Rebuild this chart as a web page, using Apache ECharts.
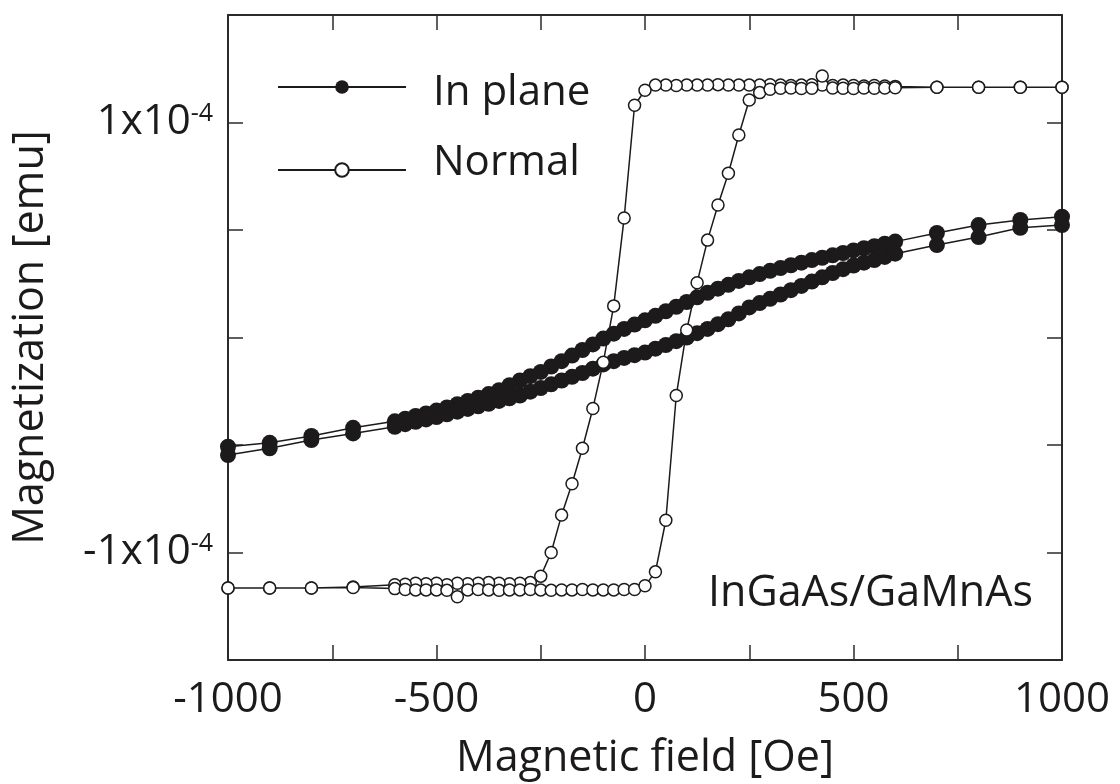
<!DOCTYPE html>
<html>
<head>
<meta charset="utf-8">
<title>InGaAs/GaMnAs magnetization</title>
<script src="https://cdn.jsdelivr.net/npm/echarts@6/dist/echarts.min.js"></script>
<style>
  html, body { margin: 0; padding: 0; background: #fff; }
  #chart { width: 1120px; height: 784px; }
</style>
</head>
<body>
<div id="chart"></div>
<script>
var chart = echarts.init(document.getElementById('chart'));

// field sweep, Oe (down: +1000 -> -1000, then back up)
const fieldDown = [1000, 900, 800, 700,
  600, 575, 550, 525, 500, 475, 450, 425, 400, 375, 350, 325, 300, 275, 250, 225,
  200, 175, 150, 125, 100, 75, 50, 25, 0, -25, -50, -75, -100, -125, -150, -175,
  -200, -225, -250, -275, -300, -325, -350, -375, -400, -425, -450, -475, -500,
  -525, -550, -575, -600,
  -700, -800, -900, -1000];
const fieldUp = fieldDown.slice().reverse();

// magnetization, in units of 1e-4 emu
const inPlaneDown = [0.562, 0.547, 0.523, 0.486,
  0.446, 0.436, 0.425, 0.415, 0.405, 0.393, 0.382, 0.371, 0.360, 0.348, 0.336, 0.323, 0.310, 0.295, 0.280, 0.263,
  0.245, 0.227, 0.208, 0.187, 0.165, 0.143, 0.122, 0.101, 0.080, 0.060, 0.040, 0.018, -0.005, -0.032, -0.058, -0.084,
  -0.110, -0.135, -0.160, -0.180, -0.200, -0.222, -0.245, -0.263, -0.280, -0.295, -0.310, -0.325, -0.340,
  -0.353, -0.365, -0.378, -0.390,
  -0.420, -0.458, -0.490, -0.508];
const inPlaneUp = [-0.547, -0.515, -0.477, -0.446,
  -0.415, -0.403, -0.392, -0.381, -0.370, -0.357, -0.345, -0.332, -0.320, -0.308, -0.295, -0.283, -0.270, -0.252, -0.235, -0.218,
  -0.200, -0.183, -0.165, -0.145, -0.125, -0.110, -0.095, -0.082, -0.070, -0.052, -0.035, -0.017, 0.000, 0.020, 0.040, 0.062,
  0.085, 0.112, 0.140, 0.160, 0.180, 0.200, 0.220, 0.240, 0.260, 0.280, 0.300, 0.318, 0.335,
  0.348, 0.360, 0.375, 0.390,
  0.430, 0.467, 0.510, 0.523];

const normalDown = [1.164, 1.164, 1.164, 1.164,
  1.168, 1.170, 1.172, 1.170, 1.172, 1.174, 1.172, 1.174, 1.176, 1.174, 1.172, 1.174, 1.176, 1.174, 1.174, 1.174,
  1.174, 1.176, 1.174, 1.174, 1.174, 1.172, 1.174, 1.174, 1.150, 1.080, 0.556, 0.147, -0.115, -0.330, -0.515, -0.680,
  -0.826, -1.000, -1.110, -1.140, -1.143, -1.145, -1.143, -1.140, -1.143, -1.145, -1.143, -1.150, -1.143,
  -1.145, -1.143, -1.148, -1.150,
  -1.160, -1.165, -1.165, -1.165];
const normalUp = [-1.165, -1.165, -1.165, -1.163,
  -1.168, -1.172, -1.174, -1.174, -1.174, -1.176, -1.206, -1.174, -1.172, -1.174, -1.176, -1.174, -1.174, -1.172, -1.174, -1.176,
  -1.174, -1.174, -1.172, -1.174, -1.174, -1.174, -1.172, -1.172, -1.155, -1.090, -0.850, -0.270, 0.035, 0.255, 0.453, 0.616,
  0.764, 0.942, 1.105, 1.139, 1.155, 1.159, 1.160, 1.158, 1.159, 1.216, 1.160, 1.159, 1.158,
  1.160, 1.159, 1.160, 1.162,
  1.164, 1.164, 1.164, 1.164];

const seriesNames = ['In plane', 'Normal'];
const xTickLabels = [-1000, -500, 0, 500, 1000];
const yTickLabels = [-1, 1];

function loop(down, up) {
  var pts = [];
  for (var i = 0; i < fieldDown.length; i++) pts.push([fieldDown[i], down[i]]);
  for (var j = 0; j < fieldUp.length; j++) pts.push([fieldUp[j], up[j]]);
  return pts;
}

var ink = '#1c1a1b';
var frame = '#2b2b2b';
var font = '"Open Sans", "Noto Sans", sans-serif';

function axisBase(pos, labels) {
  return {
    type: 'value',
    position: pos,
    axisLine: { show: true, onZero: false, lineStyle: { color: frame, width: 2 } },
    axisTick: { show: true, inside: true, length: 15, lineStyle: { color: frame, width: 1.5 } },
    splitLine: { show: false },
    axisLabel: { show: labels }
  };
}

var xBottom = axisBase('bottom', true);
Object.assign(xBottom, {
  min: -1000, max: 1000, interval: 250,
  name: 'Magnetic field [Oe]', nameLocation: 'middle', nameGap: 77,
  nameTextStyle: { fontFamily: font, fontSize: 43, color: ink }
});
xBottom.axisLabel = {
  show: true, margin: 19, fontFamily: font, fontSize: 42, color: ink,
  formatter: function (v) { return xTickLabels.indexOf(v) >= 0 ? String(v) : ''; }
};
var xTop = axisBase('top', false);
Object.assign(xTop, { min: -1000, max: 1000, interval: 250 });

var yLeft = axisBase('left', true);
Object.assign(yLeft, {
  min: -1.5, max: 1.5, interval: 0.5,
  name: 'Magnetization [emu]', nameLocation: 'middle', nameGap: 176,
  nameTextStyle: { fontFamily: font, fontSize: 43, color: ink }
});
yLeft.axisLabel = {
  show: true, margin: 15, fontFamily: font, fontSize: 42, color: ink,
  formatter: function (v) {
    if (yTickLabels.indexOf(v) < 0) return '';
    return (v < 0 ? '-' : '') + '1x10{s|-4}';
  },
  rich: {
    s: { fontFamily: font, fontSize: 25, color: ink, verticalAlign: 'top', padding: [0, 0, 18, 0] }
  }
};
var yRight = axisBase('right', false);
Object.assign(yRight, { min: -1.5, max: 1.5, interval: 0.5 });

// legend text sits a little below its line for the first entry, above it for the second
var legendText = { fontFamily: font, fontSize: 42, color: ink, lineHeight: 50, padding: [0, 0, 0, 22] };

var option = {
  animation: false,
  backgroundColor: '#fff',
  grid: { left: 228, right: 58, top: 15, bottom: 124, outerBoundsMode: 'none', containLabel: false },
  legend: {
    data: seriesNames,
    orient: 'vertical',
    left: 272, top: 55,
    itemWidth: 128, itemHeight: 17, itemGap: 28,
    formatter: function (name) {
      return name === seriesNames[0] ? '{a|' + name + '}{ha| }' : '{b|' + name + '}{hb| }';
    },
    textStyle: {
      fontFamily: font, fontSize: 42, color: ink,
      rich: {
        a: Object.assign({ verticalAlign: 'bottom' }, legendText),
        b: Object.assign({ verticalAlign: 'top' }, legendText),
        ha: { fontSize: 10, lineHeight: 54, verticalAlign: 'top' },
        hb: { fontSize: 10, lineHeight: 56, verticalAlign: 'bottom' }
      }
    }
  },
  xAxis: [xBottom, xTop],
  yAxis: [yLeft, yRight],
  graphic: [{
    type: 'text', left: 708, top: 572,
    style: { text: 'InGaAs/GaMnAs', font: '43px ' + font, fill: ink }
  }],
  series: [{
    name: seriesNames[0], type: 'line',
    data: loop(inPlaneDown, inPlaneUp),
    symbol: 'circle', symbolSize: 16, showAllSymbol: true,
    itemStyle: { color: ink },
    lineStyle: { color: ink, width: 1.5 }
  }, {
    name: seriesNames[1], type: 'line',
    data: loop(normalDown, normalUp),
    symbol: 'circle', symbolSize: 12, showAllSymbol: true,
    itemStyle: { color: '#fff', borderColor: ink, borderWidth: 1.5 },
    lineStyle: { color: ink, width: 1.5 }
  }]
};
chart.setOption(option);
</script>
</body>
</html>
